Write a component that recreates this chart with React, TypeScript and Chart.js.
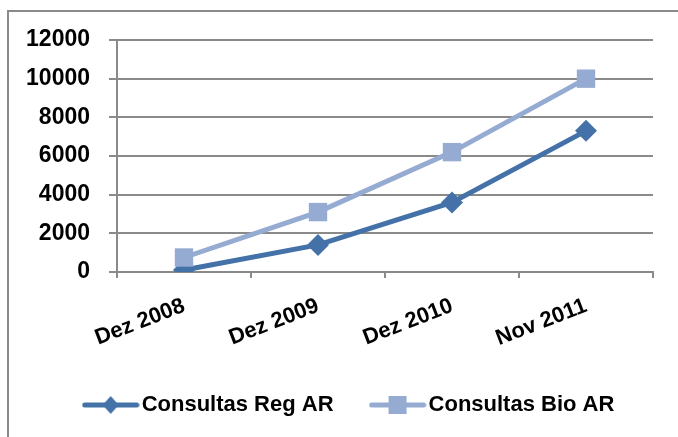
import { useEffect, useRef } from "react";
import { Chart, registerables } from "chart.js";

Chart.register(...registerables);

const categories = ["Dez 2008", "Dez 2009", "Dez 2010", "Nov 2011"];
const regAR = [100, 1400, 3600, 7300];
const bioAR = [750, 3100, 6200, 10000];
const seriesNames = ["Consultas Reg AR", "Consultas Bio AR"];
const yMin = 0;
const yMax = 12000;
const yStep = 2000;

const DARK = "#4472a8";
const LIGHT = "#95abd2";
const GRID = "#8a8a8a";
const FONT = "'Liberation Sans', Arial, sans-serif";
const LEGEND_SHIFT = 26;

function makeIcon(color: string, kind: "diamond" | "square") {
  const c = document.createElement("canvas");
  c.width = 58;
  c.height = 22;
  const ctx = c.getContext("2d")!;
  ctx.strokeStyle = color;
  ctx.lineWidth = 5;
  ctx.lineCap = "round";
  ctx.beginPath();
  ctx.moveTo(3, 11);
  ctx.lineTo(55, 11);
  ctx.stroke();
  ctx.fillStyle = color;
  if (kind === "diamond") {
    ctx.beginPath();
    ctx.moveTo(29, 2);
    ctx.lineTo(37, 11);
    ctx.lineTo(29, 20);
    ctx.lineTo(21, 11);
    ctx.closePath();
    ctx.fill();
  } else {
    ctx.fillRect(20, 2, 18, 18);
  }
  return c;
}

const legendShift = {
  id: "legendShift",
  afterLayout(chart: any) {
    const lg = chart.legend;
    if (lg) {
      lg.left += LEGEND_SHIFT;
      lg.right += LEGEND_SHIFT;
    }
  },
};

export default function App() {
  const ref = useRef<HTMLCanvasElement | null>(null);

  useEffect(() => {
    if (!ref.current) return;
    const icons = [makeIcon(DARK, "diamond"), makeIcon(LIGHT, "square")];
    const chart = new Chart(ref.current, {
      type: "line",
      data: {
        labels: categories,
        datasets: [
          {
            label: seriesNames[0],
            data: regAR,
            borderColor: DARK,
            backgroundColor: DARK,
            borderWidth: 5,
            pointStyle: "rectRot",
            pointRadius: 11,
            pointBorderWidth: 0,
            pointBackgroundColor: DARK,
            order: 1,
          },
          {
            label: seriesNames[1],
            data: bioAR,
            borderColor: LIGHT,
            backgroundColor: LIGHT,
            borderWidth: 5,
            pointStyle: "rect",
            pointRadius: 13,
            pointBorderWidth: 0,
            pointBackgroundColor: LIGHT,
            order: 0,
          },
        ],
      },
      plugins: [legendShift],
      options: {
        responsive: false,
        animation: false,
        layout: { padding: { left: 0, right: 25, top: 40, bottom: 21 } },
        plugins: {
          tooltip: { enabled: false },
          legend: {
            position: "bottom",
            maxHeight: 66,
            labels: {
              usePointStyle: true,
              pointStyleWidth: 40,
              padding: 44,
              color: "#000",
              font: { family: FONT, size: 22, weight: "bold" },
              generateLabels: (ch: any) =>
                ch.data.datasets.map((ds: any, i: number) => ({
                  text: ds.label,
                  pointStyle: icons[i],
                  fillStyle: ds.borderColor,
                  strokeStyle: ds.borderColor,
                  lineWidth: 0,
                  hidden: false,
                  datasetIndex: i,
                  fontColor: "#000",
                })),
            },
          },
        },
        scales: {
          x: {
            offset: true,
            afterFit: (s: any) => {
              s.height = 78;
            },
            grid: {
              offset: true,
              drawOnChartArea: false,
              drawTicks: true,
              tickLength: 6,
              color: GRID,
              lineWidth: 2,
            },
            border: { display: true, color: GRID, width: 2 },
            ticks: {
              autoSkip: false,
              maxRotation: 21,
              minRotation: 21,
              padding: 15,
              color: "#000",
              font: { family: FONT, size: 22, weight: "bold" },
            },
          },
          y: {
            min: yMin,
            max: yMax,
            afterFit: (s: any) => {
              s.width = 117;
            },
            grid: {
              color: GRID,
              lineWidth: 2,
              drawTicks: true,
              tickLength: 8,
            },
            border: { display: true, color: GRID, width: 2 },
            ticks: {
              stepSize: yStep,
              padding: 19,
              color: "#000",
              font: { family: FONT, size: 23, weight: "bold" },
              callback: (v: any) => String(v),
            },
          },
        },
      },
    });
    return () => chart.destroy();
  }, []);

  return (
    <div
      style={{
        position: "fixed",
        left: 0,
        top: 0,
        width: 678,
        height: 437,
        overflow: "hidden",
        background: "#fff",
      }}
    >
      <div
        style={{
          position: "absolute",
          left: 7,
          top: 10,
          width: 720,
          height: 480,
          border: "2px solid #8a8a8a",
        }}
      />
      <canvas
        ref={ref}
        width={678}
        height={437}
        style={{ position: "absolute", left: 0, top: 0, width: 678, height: 437 }}
      />
    </div>
  );
}
